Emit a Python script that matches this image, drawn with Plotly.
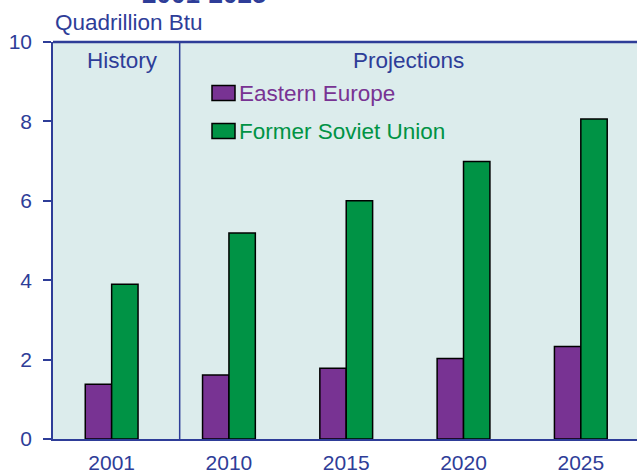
import plotly.graph_objects as go

years = ["2001", "2010", "2015", "2020", "2025"]
eastern_europe = [1.38, 1.61, 1.78, 2.03, 2.33]
former_soviet_union = [3.9, 5.19, 6.0, 6.99, 8.06]
y_ticks = [0, 2, 4, 6, 8, 10]

BLUE = "#2e3d98"
PURPLE = "#783393"
GREEN = "#009345"
BG = "#dcecec"
FONT = "Liberation Sans, Arial, sans-serif"

fig = go.Figure()
fig.add_trace(go.Bar(x=years, y=eastern_europe, name="Eastern Europe",
                     marker=dict(color=PURPLE, line=dict(color="black", width=1.5))))
fig.add_trace(go.Bar(x=years, y=former_soviet_union, name="Former Soviet Union",
                     marker=dict(color=GREEN, line=dict(color="black", width=1.5))))

fig.update_layout(
    width=637, height=474, autosize=False,
    margin=dict(l=53, r=0, t=42, b=35, autoexpand=False),
    paper_bgcolor="white", plot_bgcolor=BG,
    barmode="group", bargap=0.55, bargroupgap=0,
    showlegend=False,
    font=dict(family=FONT, color=BLUE, size=21),
)
fig.update_xaxes(type="category", range=[-0.5, 4.479], showgrid=False,
                 showline=True, linecolor=BLUE, linewidth=1.5, ticks="",
                 tickfont=dict(size=21, color=BLUE), ticklabelstandoff=4,
                 automargin=False)
fig.update_yaxes(range=[0, 10], tickvals=y_ticks, showgrid=False, zeroline=False,
                 showline=True, linecolor=BLUE, linewidth=1.5, ticks="outside",
                 ticklen=8, tickcolor=BLUE, tickwidth=1.5, ticklabelstandoff=7,
                 tickfont=dict(size=21, color=BLUE), automargin=False)

# top border and history/projection divider
fig.add_shape(type="line", xref="paper", yref="paper", x0=0, x1=1, y0=1, y1=1,
              line=dict(color=BLUE, width=2.5))
fig.add_shape(type="line", xref="x", yref="paper", x0=0.58, x1=0.58, y0=0, y1=1,
              line=dict(color=BLUE, width=1.5))

fig.add_annotation(text="Quadrillion Btu", xref="paper", yref="paper", x=0, y=1,
                   xanchor="left", yanchor="bottom", yshift=5, showarrow=False,
                   font=dict(size=22.5, color=BLUE))
fig.add_annotation(text="<b>2001-2025</b>", xref="paper", yref="paper",
                   x=(140 - 53) / 584, y=1,
                   xanchor="left", yanchor="middle", yshift=48, showarrow=False,
                   font=dict(size=26, color=BLUE))
fig.add_annotation(text="History", xref="x", yref="paper", x=0.094, y=1,
                   yanchor="top", yshift=-4, showarrow=False,
                   font=dict(size=22.5, color=BLUE))
fig.add_annotation(text="Projections", xref="x", yref="paper", x=2.53, y=1,
                   yanchor="top", yshift=-4, showarrow=False,
                   font=dict(size=22.5, color=BLUE))

# legend
for i, (name, col) in enumerate([("Eastern Europe", PURPLE), ("Former Soviet Union", GREEN)]):
    yc = 8.715 - i * 0.957
    fig.add_shape(type="rect", xref="paper", yref="y",
                  x0=(212 - 53) / 584, x1=(235 - 53) / 584, y0=yc - 0.189, y1=yc + 0.189,
                  fillcolor=col, line=dict(color="black", width=1.5))
    fig.add_annotation(text=name, xref="paper", yref="y", x=(237 - 53) / 584, y=yc,
                       xanchor="left", yanchor="middle", showarrow=False,
                       font=dict(size=22.5, color=col))

fig.write_html("out.html", config={"displayModeBar": False},
               post_script="document.body.style.margin='0';document.body.style.overflow='hidden';")
